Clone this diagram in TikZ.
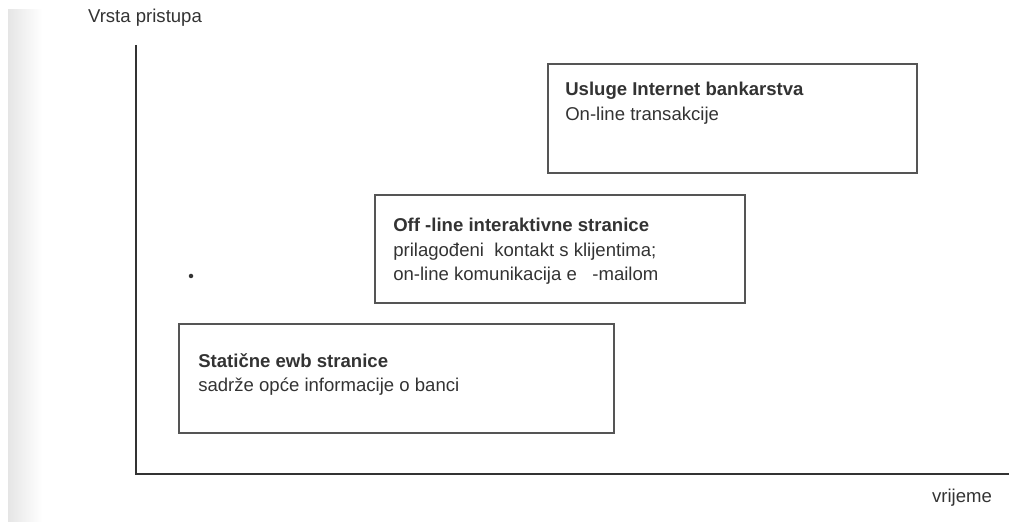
\documentclass[tikz,border=0pt]{standalone}
\usepackage{fontspec}
\setmainfont{Liberation Sans}
\usetikzlibrary{positioning}
\definecolor{ink}{HTML}{333333}
\definecolor{rub}{HTML}{555555}
\tikzset{
  os/.style={ink,line width=1.3pt},
  okvir/.style={draw=rub,line width=1.3pt},
  opis/.style={anchor=north west,inner sep=0pt,align=left,text=ink,
    font=\fontsize{13.2pt}{17.5pt}\selectfont},
  naziv/.style={font=\fontsize{13.2pt}{17.5pt}\selectfont},
}

\begin{document}
\begin{tikzpicture}[x=0.025cm,y=0.025cm]
  \useasboundingbox (0,0) rectangle (1009,521);
  \shade[left color=black!10,right color=white] (8,0) rectangle (42,511);
  % osi
  \coordinate (ishod) at (136,47);
  \coordinate (vrh) at (136,476);
  \coordinate (kraj) at (1009,47);
  \draw[os] (vrh) -- (ishod) -- (kraj);
  \node[naziv,text=ink,anchor=south] (osy) at (145,490) {Vrsta pristupa};
  \node[naziv,text=ink,anchor=north] (osx) at (962,37) {vrijeme};
  % razine
  \draw[okvir] (548,457) rectangle (917,348);
  \node[opis] (usluge) at (565,439)
    {\textbf{Usluge Internet bankarstva}\\On-line transakcije};
  \draw[okvir] (375,326) rectangle (745,218);
  \node[opis] (offline) at (393,303)
    {\textbf{Off -line interaktivne stranice}\\
     prilagođeni\ \ kontakt s klijentima;\\
     on-line komunikacija e\ \ \ -mailom};
  \draw[okvir] (179,197) rectangle (614,88);
  \node[opis] (staticne) at (198,168)
    {\textbf{Statične ewb stranice}\\sadrže opće informacije o banci};
  \fill[ink] (191,245) circle (1.6pt);
\end{tikzpicture}
\end{document}
